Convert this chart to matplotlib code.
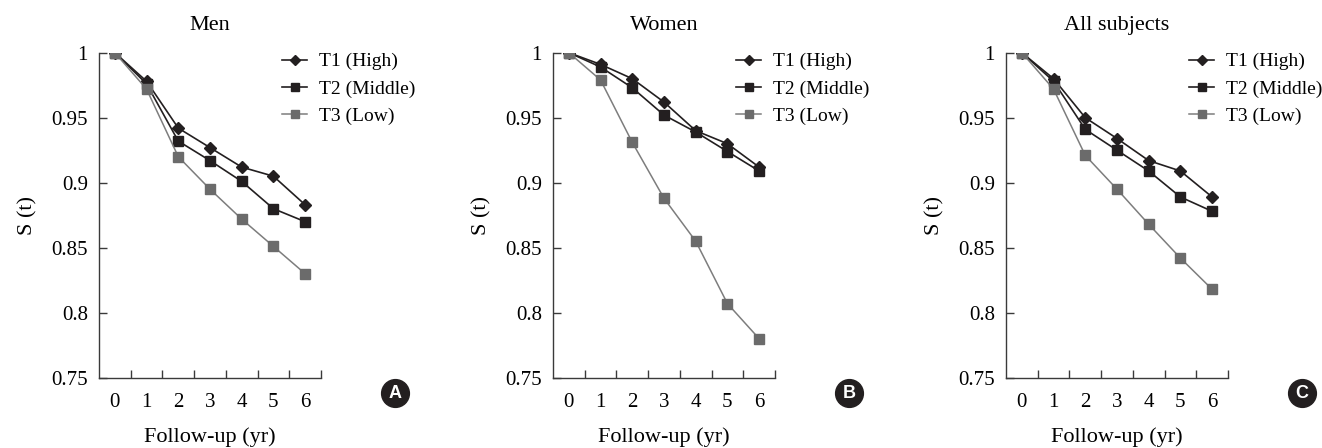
import matplotlib
matplotlib.use('Agg')
import matplotlib.pyplot as plt
from matplotlib.lines import Line2D
from matplotlib.ticker import FuncFormatter, FixedLocator

plt.rcParams['font.family'] = ['Liberation Serif', 'DejaVu Serif']

years = [0, 1, 2, 3, 4, 5, 6]
titles = ['Men', 'Women', 'All subjects']
panel_letters = ['A', 'B', 'C']
series_names = ['T1 (High)', 'T2 (Middle)', 'T3 (Low)']

men_t1 = [1.0, 0.978, 0.942, 0.927, 0.912, 0.905, 0.883]
men_t2 = [1.0, 0.976, 0.932, 0.917, 0.901, 0.880, 0.870]
men_t3 = [1.0, 0.972, 0.920, 0.895, 0.872, 0.851, 0.830]

women_t1 = [1.0, 0.991, 0.980, 0.962, 0.940, 0.930, 0.912]
women_t2 = [1.0, 0.989, 0.973, 0.952, 0.939, 0.924, 0.909]
women_t3 = [1.0, 0.979, 0.931, 0.888, 0.855, 0.807, 0.780]

all_t1 = [1.0, 0.980, 0.950, 0.934, 0.917, 0.909, 0.889]
all_t2 = [1.0, 0.978, 0.941, 0.925, 0.909, 0.889, 0.878]
all_t3 = [1.0, 0.972, 0.921, 0.895, 0.868, 0.842, 0.818]

panels = [
    (men_t1, men_t2, men_t3),
    (women_t1, women_t2, women_t3),
    (all_t1, all_t2, all_t3),
]

y_ticks = [0.75, 0.8, 0.85, 0.9, 0.95, 1.0]

black = '#231f20'
gray_mk = '#6b6b6b'
gray_ln = '#7d7d7d'

fig = plt.figure(figsize=(13.22, 4.48), dpi=100)

lefts = [99 / 1322, 553 / 1322, 1006 / 1322]
letter_x = [395 / 1322, 849 / 1322, 1302 / 1322]
w = 222 / 1322
b = 70.3 / 448
h = 325 / 448

for i, (t1, t2, t3) in enumerate(panels):
    ax = fig.add_axes([lefts[i], b, w, h])
    ax.plot(years, t1, color=black, lw=1.2, marker='D', ms=6.6,
            mfc=black, mec=black, label=series_names[0])
    ax.plot(years, t2, color=black, lw=1.2, marker='s', ms=6.8,
            mfc=black, mec=black, label=series_names[1])
    ax.plot(years, t3, color=gray_ln, lw=1.1, marker='s', ms=6.8,
            mfc=gray_mk, mec=gray_mk, label=series_names[2])

    ax.set_xlim(-0.5, 6.5)
    ax.set_ylim(0.75, 1.0)
    ax.set_xticks(years)
    ax.xaxis.set_minor_locator(FixedLocator([x + 0.5 for x in years]))
    ax.set_yticks(y_ticks)
    ax.yaxis.set_major_formatter(FuncFormatter(lambda v, p: '%g' % round(v, 2)))

    for s in ['top', 'right']:
        ax.spines[s].set_visible(False)
    for s in ['left', 'bottom']:
        ax.spines[s].set_color('#3a3a3a')
        ax.spines[s].set_linewidth(1.0)

    ax.tick_params(axis='x', which='major', length=0, pad=11, labelsize=15)
    ax.tick_params(axis='x', which='minor', direction='in', length=5.5,
                   width=1.0, color='#3a3a3a')
    ax.tick_params(axis='y', direction='in', length=5.5, width=1.0,
                   color='#3a3a3a', pad=8, labelsize=15)

    ax.set_title(titles[i], fontsize=16, pad=16)
    ax.set_xlabel('Follow-up (yr)', fontsize=16, labelpad=11)
    ax.set_ylabel('S (t)', fontsize=16, labelpad=10)

    ax.legend(loc='upper left', bbox_to_anchor=(0.824, 1.0), frameon=False,
              fontsize=14, handlelength=1.3, handletextpad=0.62,
              labelspacing=0.5, borderpad=0, borderaxespad=0,
              markerscale=0.75)

    fig.add_artist(Line2D([letter_x[i]], [1 - 393 / 448], marker='o', ms=20,
                          mfc=black, mec=black, transform=fig.transFigure))
    fig.text(letter_x[i], 1 - 393 / 448, panel_letters[i], color='white',
             fontsize=13, fontweight='bold', family='Liberation Sans',
             ha='center', va='center')

plt.savefig('out.png', dpi=100)
plt.close()
